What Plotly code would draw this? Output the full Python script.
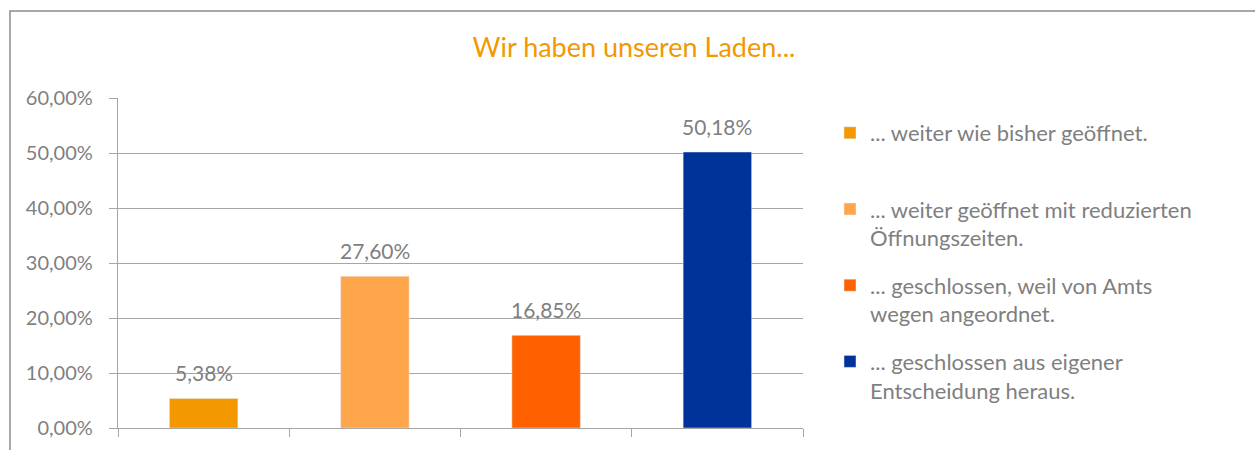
import plotly.graph_objects as go

categories = [
    "... weiter wie bisher geöffnet.",
    "... weiter geöffnet mit reduzierten<br>Öffnungszeiten.",
    "... geschlossen, weil von Amts<br>wegen angeordnet.",
    "... geschlossen aus eigener<br>Entscheidung heraus.",
]
legend_names = [
    "... weiter wie bisher geöffnet.<br>\u00a0",
    "... weiter geöffnet mit reduzierten<br>Öffnungszeiten.",
    "... geschlossen, weil von Amts<br>wegen angeordnet.",
    "... geschlossen aus eigener<br>Entscheidung heraus.",
]
values = [0.0538, 0.2760, 0.1685, 0.5018]
colors = ["#F39800", "#FFA64D", "#FF6000", "#003399"]
y_ticks = [0, 0.1, 0.2, 0.3, 0.4, 0.5, 0.6]

GRAY = "#7f7f7f"
LINE = "#a6a6a6"
FONT = "Lato"

fig = go.Figure()
for i, (cat, name, v, c) in enumerate(zip(categories, legend_names, values, colors)):
    fig.add_trace(go.Bar(
        x=[cat], y=[v], name=name, marker_color=c, width=0.4,
        legendgroup=f"g{i}", hoverinfo="skip",
    ))
    fig.add_annotation(
        x=cat, y=v, text=f"{v*100:.2f}%".replace(".", ","),
        showarrow=False, yanchor="bottom", yshift=11,
        font=dict(family=FONT, size=21, color=GRAY),
    )

W, H = 1255, 450
ml, mr, mt, mb = 118, 452, 98, 22
pw, ph = W - ml - mr, H - mt - mb

def px_x(x):
    return (x - ml) / pw

def px_y(y):
    return (H - mb - y) / ph

# outer chart border
fig.add_shape(type="rect", xref="paper", yref="paper",
              x0=px_x(10), x1=px_x(1262), y0=px_y(460), y1=px_y(11),
              line=dict(color="#8c8c8c", width=1.5), fillcolor="rgba(0,0,0,0)")

fig.update_layout(
    width=W, height=H,
    margin=dict(l=ml, r=mr, t=mt, b=mb),
    paper_bgcolor="white", plot_bgcolor="white",
    separators=",.",
    barmode="overlay",
    font=dict(family=FONT, color=GRAY),
    title=dict(text="Wir haben unseren Laden...", x=634 / W, xref="container",
               xanchor="center", y=1 - 48 / H, yref="container", yanchor="middle",
               font=dict(family=FONT, size=27, color="#F39800")),
    showlegend=True,
    legend=dict(x=px_x(830), xanchor="left", y=px_y(112), yanchor="top",
                font=dict(family=FONT, size=22, color=GRAY),
                valign="top", tracegroupgap=16, itemclick=False, itemdoubleclick=False,
                bgcolor="rgba(0,0,0,0)"),
    xaxis=dict(type="category", showticklabels=False, tickson="boundaries",
               ticks="outside", ticklen=8, tickcolor=LINE, showline=True,
               linecolor=LINE, linewidth=1.3, showgrid=False, zeroline=False),
    yaxis=dict(range=[0, 0.6], tickvals=y_ticks, tickformat=".2%",
               ticks="outside", ticklen=8, tickcolor=LINE, showline=True,
               linecolor=LINE, linewidth=1.3, showgrid=True, gridcolor=LINE,
               gridwidth=1.3, zeroline=False, ticklabelstandoff=12,
               tickfont=dict(family=FONT, size=20, color=GRAY)),
)

fig.write_html("out.html", config={"displayModeBar": False},
               post_script="document.body.style.margin='0';")
